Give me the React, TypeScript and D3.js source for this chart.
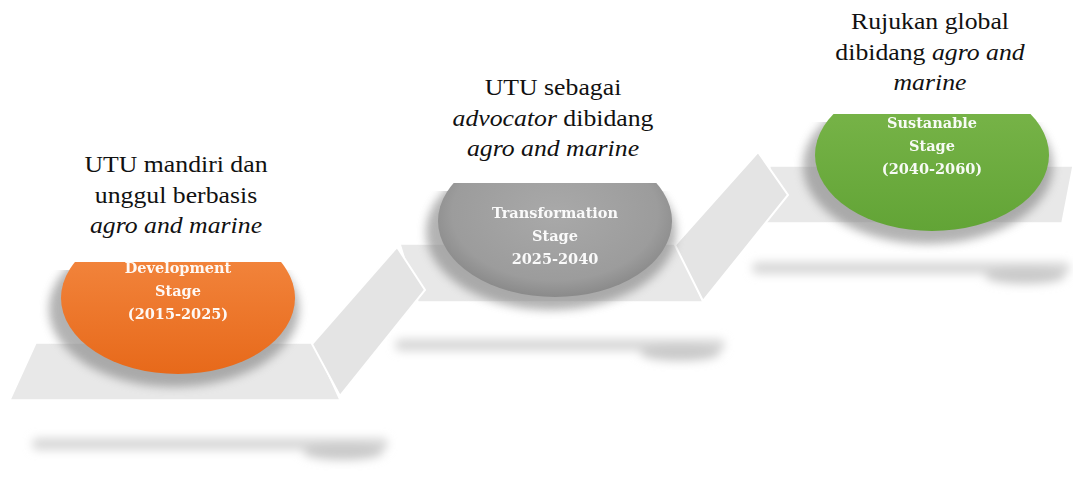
import React from "react";
import * as d3 from "d3";

// stage data
const stages = ["Development", "Transformation", "Sustanable"];
const stageWord = ["Stage", "Stage", "Stage"];
const periods = ["(2015-2025)", "2025-2040", "(2040-2060)"];
// *...* marks italic parts
const headings = [
  ["UTU mandiri dan", "unggul berbasis", "*agro and marine*"],
  ["UTU sebagai", "*advocator* dibidang", "*agro and marine*"],
  ["Rujukan global", "dibidang *agro and*", "*marine*"],
];
const fills = ["orange", "gray", "green"];

const W = 1073;
const H = 479;

// layout
const cx = d3.scalePoint<string>().domain(stages).range([178, 932]);
const cy = d3.scaleOrdinal<string, number>().domain(stages).range([298, 221, 155]);
const clipTop = d3.scaleOrdinal<string, number>().domain(stages).range([262, 183, 114]);
const labelY = d3.scaleOrdinal<string, number>().domain(stages).range([273, 218, 128]);
const rx = 117;
const ry = 76;

const bands = [
  [[36, 343], [314, 343], [340, 400], [10, 400]],
  [[400, 244], [677, 244], [703, 302], [418, 302]],
  [[770, 166], [1073, 166], [1062, 223], [765, 223]],
];
const diags = [
  [[312, 344], [397, 247], [425, 290], [340, 396]],
  [[675, 245], [758, 152], [788, 195], [703, 301]],
];
const floorShadows = [
  { x1: 32, x2: 388, y: 444 },
  { x1: 395, x2: 725, y: 345 },
  { x1: 752, x2: 1070, y: 268 },
];

const poly = d3.line<number[]>().x((d) => d[0]).y((d) => d[1]);

function parseLine(s: string) {
  return s.split("*").map((t, i) => ({ t, it: i % 2 === 1 })).filter((p) => p.t.length);
}

const serif = "'Liberation Serif', 'Times New Roman', Times, serif";

const App: React.FC = () => {
  return (
    <div style={{ position: "fixed", left: 0, top: 0 }}>
      <svg width={W} height={H} style={{ display: "block", background: "#fff" }}>
        <defs>
          <filter id="blur6" x="-20%" y="-200%" width="140%" height="500%">
            <feGaussianBlur stdDeviation="5" />
          </filter>
          <filter id="blur4" x="-20%" y="-50%" width="140%" height="200%">
            <feGaussianBlur stdDeviation="5" />
          </filter>
          <linearGradient id="orange" x1="0" y1="0" x2="0" y2="1">
            <stop offset="0" stopColor="#F58C46" />
            <stop offset="1" stopColor="#E7691A" />
          </linearGradient>
          <radialGradient id="gray" cx="0.5" cy="0.45" r="0.55">
            <stop offset="0" stopColor="#A9A9A9" />
            <stop offset="0.8" stopColor="#9C9C9C" />
            <stop offset="1" stopColor="#8A8A8A" />
          </radialGradient>
          <linearGradient id="green" x1="0" y1="0" x2="0" y2="1">
            <stop offset="0" stopColor="#7CB74C" />
            <stop offset="1" stopColor="#62A436" />
          </linearGradient>
          {stages.map((s) => (
            <clipPath id={`clip-${s}`} key={s}>
              <rect x={cx(s)! - rx - 20} y={clipTop(s)} width={rx * 2 + 40} height={ry * 2 + 20} />
            </clipPath>
          ))}
          {stages.map((s) => (
            <clipPath id={`sclip-${s}`} key={"s" + s}>
              <rect x={cx(s)! - rx - 30} y={clipTop(s) + 8} width={rx * 2 + 60} height={ry * 2 + 20} />
            </clipPath>
          ))}
        </defs>

        {/* floor shadows */}
        {floorShadows.map((f, i) => (
          <g key={i} filter="url(#blur6)">
            <rect x={f.x1} y={f.y - 6} width={f.x2 - f.x1} height={12} rx={6} fill="#d8d8d8" />
            <ellipse cx={f.x2 - 45} cy={f.y + 8} rx={40} ry={8} fill="#cacaca" />
          </g>
        ))}

        {/* steps */}
        {bands.map((b, i) => (
          <path key={"b" + i} d={poly(b)! + "Z"} fill="#E8E8E8" stroke="#fff" strokeWidth={1.5} />
        ))}
        {diags.map((b, i) => (
          <path key={"d" + i} d={poly(b)! + "Z"} fill="#E4E4E4" stroke="#fff" strokeWidth={2} />
        ))}

        {/* ellipses */}
        {stages.map((s, i) => (
          <g key={s}>
            <g clipPath={`url(#sclip-${s})`}>
              <ellipse cx={cx(s)! - 4} cy={cy(s)! + 11} rx={rx + 8} ry={ry + 2} fill="#808080" opacity={0.6} filter="url(#blur4)" />
            </g>
            <g clipPath={`url(#clip-${s})`}>
              <ellipse cx={cx(s)} cy={cy(s)} rx={rx} ry={ry} fill={`url(#${fills[i]})`} />
            </g>
            <g style={{ fontFamily: "'DejaVu Serif', serif" }} fontWeight="bold" fontSize={14.5} fill="#fff" textAnchor="middle" opacity={0.95}>
              <text x={cx(s)} y={labelY(s)}>{s}</text>
              <text x={cx(s)} y={labelY(s) + 23}>{stageWord[i]}</text>
              <text x={cx(s)} y={labelY(s) + 46}>{periods[i]}</text>
            </g>
          </g>
        ))}

        {/* headings */}
        {stages.map((s, i) => (
          <g key={"h" + s} style={{ fontFamily: serif }} fontSize={23} fill="#111" textAnchor="middle">
            {headings[i].map((line, j) => (
              <text key={j} transform={`translate(${cx(s)! - 2},${cy(s) - 126 + j * 30.5}) scale(1.12,1)`}>
                {parseLine(line).map((p, k) => (
                  <tspan key={k} fontStyle={p.it ? "italic" : "normal"}>{p.t}</tspan>
                ))}
              </text>
            ))}
          </g>
        ))}
      </svg>
    </div>
  );
};

export default App;
